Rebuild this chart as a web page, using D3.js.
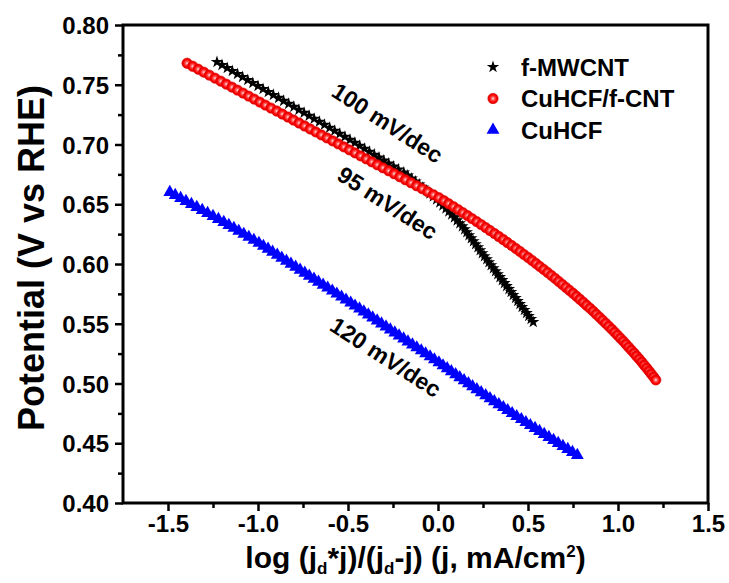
<!DOCTYPE html>
<html>
<head>
<meta charset="utf-8">
<script src="https://cdn.jsdelivr.net/npm/d3@7"></script>
<style>
  body { margin: 0; background: #fff; }
  text { font-family: "Liberation Sans", Arial, sans-serif; font-weight: bold; fill: #000; }
</style>
</head>
<body>
<svg id="chart" width="729" height="583"></svg>
<script>
// values: [log(jd*j/(jd-j)), potential V vs RHE]
const mwcnt = [
  [-1.228,0.769],[-1.200,0.7665],[-1.171,0.764],[-1.143,0.7615],[-1.114,0.759],[-1.086,0.7565],[-1.057,0.754],[-1.029,0.7515],
  [-1.000,0.749],[-0.972,0.7465],[-0.943,0.744],[-0.915,0.7415],[-0.886,0.739],[-0.858,0.7365],[-0.830,0.734],[-0.801,0.7315],
  [-0.773,0.729],[-0.744,0.7265],[-0.716,0.724],[-0.688,0.7215],[-0.659,0.719],[-0.631,0.7165],[-0.602,0.714],[-0.574,0.7115],
  [-0.546,0.709],[-0.517,0.7065],[-0.489,0.704],[-0.462,0.7015],[-0.435,0.699],[-0.408,0.6965],[-0.381,0.694],[-0.354,0.6915],
  [-0.328,0.689],[-0.301,0.6865],[-0.274,0.684],[-0.247,0.6815],[-0.220,0.679],[-0.190,0.6765],[-0.168,0.674],[-0.146,0.6715],
  [-0.125,0.669],[-0.104,0.6665],[-0.084,0.664],[-0.064,0.6615],[-0.045,0.659],[-0.026,0.6565],[-0.008,0.654],[0.010,0.6515],
  [0.027,0.649],[0.044,0.6465],[0.060,0.644],[0.076,0.6415],[0.091,0.639],[0.106,0.6365],[0.121,0.634],[0.135,0.6315],
  [0.148,0.629],[0.160,0.6265],[0.172,0.624],[0.185,0.6215],[0.197,0.619],[0.209,0.6165],[0.222,0.614],[0.234,0.6115],
  [0.246,0.609],[0.258,0.6065],[0.271,0.604],[0.283,0.6015],[0.295,0.599],[0.308,0.5965],[0.320,0.594],[0.332,0.5915],
  [0.344,0.589],[0.357,0.5865],[0.369,0.584],[0.381,0.5815],[0.394,0.579],[0.406,0.5765],[0.418,0.574],[0.431,0.5715],
  [0.443,0.569],[0.455,0.5665],[0.467,0.564],[0.480,0.5615],[0.492,0.559],[0.504,0.5565],[0.517,0.554],[0.529,0.5515]
];
const cuhcfCnt = [
  [-1.394,0.768],[-1.363,0.7655],[-1.332,0.763],[-1.301,0.7605],[-1.270,0.758],[-1.239,0.7555],[-1.207,0.753],[-1.176,0.7505],
  [-1.145,0.748],[-1.114,0.7455],[-1.083,0.743],[-1.052,0.7405],[-1.021,0.738],[-0.990,0.7355],[-0.959,0.733],[-0.928,0.7305],
  [-0.896,0.728],[-0.865,0.7255],[-0.834,0.723],[-0.803,0.7205],[-0.772,0.718],[-0.741,0.7155],[-0.710,0.713],[-0.679,0.7105],
  [-0.648,0.708],[-0.617,0.7055],[-0.585,0.703],[-0.554,0.7005],[-0.523,0.698],[-0.492,0.6955],[-0.461,0.693],[-0.430,0.6905],
  [-0.399,0.688],[-0.368,0.6855],[-0.337,0.683],[-0.306,0.6805],[-0.274,0.678],[-0.243,0.6755],[-0.212,0.673],[-0.181,0.6705],
  [-0.150,0.668],[-0.119,0.6655],[-0.088,0.663],[-0.057,0.6605],[-0.026,0.658],[0.005,0.6555],[0.033,0.653],[0.059,0.6505],
  [0.086,0.648],[0.112,0.6455],[0.138,0.643],[0.164,0.6405],[0.189,0.638],[0.215,0.6355],[0.240,0.633],[0.265,0.6305],
  [0.289,0.628],[0.314,0.6255],[0.338,0.623],[0.362,0.6205],[0.385,0.618],[0.409,0.6155],[0.432,0.613],[0.455,0.6105],
  [0.477,0.608],[0.500,0.6055],[0.522,0.603],[0.544,0.6005],[0.565,0.598],[0.587,0.5955],[0.608,0.593],[0.629,0.5905],
  [0.650,0.588],[0.670,0.5855],[0.690,0.583],[0.710,0.5805],[0.730,0.578],[0.750,0.5755],[0.769,0.573],[0.788,0.5705],
  [0.807,0.568],[0.825,0.5655],[0.844,0.563],[0.862,0.5605],[0.879,0.558],[0.897,0.5555],[0.914,0.553],[0.931,0.5505],
  [0.948,0.548],[0.965,0.5455],[0.981,0.543],[0.997,0.5405],[1.013,0.538],[1.029,0.5355],[1.044,0.533],[1.059,0.5305],
  [1.074,0.528],[1.089,0.5255],[1.103,0.523],[1.118,0.5205],[1.132,0.518],[1.145,0.5155],[1.159,0.513],[1.172,0.5105],
  [1.185,0.508],[1.198,0.5055],[1.210,0.503]
];
const cuhcf = [
  [-1.490,0.660],[-1.460,0.6575],[-1.430,0.655],[-1.400,0.6525],[-1.370,0.650],[-1.340,0.6475],[-1.310,0.645],[-1.280,0.6425],
  [-1.250,0.640],[-1.220,0.6375],[-1.190,0.635],[-1.162,0.6325],[-1.134,0.630],[-1.107,0.6275],[-1.079,0.625],[-1.051,0.6225],
  [-1.023,0.620],[-0.995,0.6175],[-0.970,0.615],[-0.944,0.6125],[-0.919,0.610],[-0.893,0.6075],[-0.868,0.605],[-0.842,0.6025],
  [-0.817,0.600],[-0.791,0.5975],[-0.766,0.595],[-0.740,0.5925],[-0.715,0.590],[-0.689,0.5875],[-0.664,0.585],[-0.638,0.5825],
  [-0.613,0.580],[-0.587,0.5775],[-0.562,0.575],[-0.536,0.5725],[-0.511,0.570],[-0.485,0.5675],[-0.461,0.565],[-0.436,0.5625],
  [-0.412,0.560],[-0.387,0.5575],[-0.363,0.555],[-0.338,0.5525],[-0.314,0.550],[-0.289,0.5475],[-0.265,0.545],[-0.240,0.5425],
  [-0.216,0.540],[-0.191,0.5375],[-0.167,0.535],[-0.142,0.5325],[-0.118,0.530],[-0.093,0.5275],[-0.069,0.525],[-0.044,0.5225],
  [-0.020,0.520],[0.005,0.5175],[0.028,0.515],[0.051,0.5125],[0.074,0.510],[0.098,0.5075],[0.121,0.505],[0.145,0.5025],
  [0.169,0.500],[0.192,0.4975],[0.216,0.495],[0.240,0.4925],[0.265,0.490],[0.289,0.4875],[0.313,0.485],[0.338,0.4825],
  [0.363,0.480],[0.387,0.4775],[0.412,0.475],[0.437,0.4725],[0.463,0.470],[0.488,0.4675],[0.513,0.465],[0.539,0.4625],
  [0.564,0.460],[0.590,0.4575],[0.616,0.455],[0.642,0.4525],[0.668,0.450],[0.694,0.4475],[0.721,0.445],[0.747,0.4425],
  [0.774,0.440]
];

const xTicks = [-1.5, -1.0, -0.5, 0.0, 0.5, 1.0, 1.5];
const xMinor = [-1.25, -0.75, -0.25, 0.25, 0.75, 1.25];
const yTicks = [0.40, 0.45, 0.50, 0.55, 0.60, 0.65, 0.70, 0.75, 0.80];
const yMinor = [0.425, 0.475, 0.525, 0.575, 0.625, 0.675, 0.725, 0.775];
const seriesNames = ['f-MWCNT', 'CuHCF/f-CNT', 'CuHCF'];
const slopeNotes = ['100 mV/dec', '95 mV/dec', '120 mV/dec'];

const svg = d3.select('#chart');
const m = { left: 123, right: 708, top: 25, bottom: 503 };

const x = d3.scaleLinear().domain([-1.75, 1.5]).range([m.left, m.right]);
const y = d3.scaleLinear().domain([0.40, 0.80]).range([m.bottom, m.top]);

// red ball gradient
const defs = svg.append('defs');
const grad = defs.append('radialGradient').attr('id', 'ball')
  .attr('cx', '50%').attr('cy', '50%').attr('r', '50%');
grad.append('stop').attr('offset', '0%').attr('stop-color', '#ffecec');
grad.append('stop').attr('offset', '30%').attr('stop-color', '#ff6060');
grad.append('stop').attr('offset', '70%').attr('stop-color', '#ff0000');
grad.append('stop').attr('offset', '100%').attr('stop-color', '#d80000');

const starPath = d3.symbol().type(d3.symbolStar).size(48)();
const ballPath = d3.symbol().type(d3.symbolCircle).size(84)();
const triPath = d3.symbol().type(d3.symbolTriangle).size(72)();

// axes
const xAxis = svg.append('g').attr('transform', `translate(0,${m.bottom})`)
  .call(d3.axisBottom(x).tickValues(xTicks).tickSize(8).tickPadding(4).tickFormat(d => d.toFixed(1)));
svg.append('g').attr('transform', `translate(0,${m.bottom})`)
  .call(d3.axisBottom(x).tickValues(xMinor).tickSize(5).tickFormat(''));
const yAxis = svg.append('g').attr('transform', `translate(${m.left},0)`)
  .call(d3.axisLeft(y).tickValues(yTicks).tickSize(8).tickPadding(6).tickFormat(d => d.toFixed(2)));
svg.append('g').attr('transform', `translate(${m.left},0)`)
  .call(d3.axisLeft(y).tickValues(yMinor).tickSize(5).tickFormat(''));

svg.selectAll('.domain').remove();
svg.selectAll('.tick line').attr('stroke', '#000').attr('stroke-width', 2.5);
xAxis.selectAll('text').style('font-size', '24px').attr('fill', '#000');
yAxis.selectAll('text').style('font-size', '24px').attr('fill', '#000').attr('dy', '0.36em');

// series
const plot = svg.append('g');
plot.append('g').selectAll('path').data(mwcnt).join('path')
  .attr('transform', d => `translate(${x(d[0])},${y(d[1])})`)
  .attr('d', starPath).attr('fill', '#000');
plot.append('g').selectAll('path').data(cuhcfCnt).join('path')
  .attr('transform', d => `translate(${x(d[0])},${y(d[1])})`)
  .attr('d', ballPath).attr('fill', 'url(#ball)').attr('stroke', '#e00000').attr('stroke-width', 0.6);
plot.append('g').selectAll('path').data(cuhcf).join('path')
  .attr('transform', d => `translate(${x(d[0])},${y(d[1])})`)
  .attr('d', triPath).attr('fill', '#0000ff');

// frame
svg.append('rect')
  .attr('x', m.left).attr('y', m.top).attr('width', m.right - m.left).attr('height', m.bottom - m.top)
  .attr('fill', 'none').attr('stroke', '#000').attr('stroke-width', 3);

// slope annotations
const notePos = [[-0.28, 0.718], [-0.28, 0.651], [-0.29, 0.522]];
svg.append('g').selectAll('text').data(slopeNotes).join('text')
  .attr('transform', (d, i) => `translate(${x(notePos[i][0])},${y(notePos[i][1])}) rotate(33)`)
  .attr('text-anchor', 'middle').attr('dy', '0.35em')
  .style('font-size', '23px')
  .text(d => d);

// legend
const legendMarks = [
  { d: starPath, fill: '#000', stroke: 'none' },
  { d: ballPath, fill: 'url(#ball)', stroke: '#e00000' },
  { d: triPath, fill: '#0000ff', stroke: 'none' }
];
const legend = svg.append('g').attr('transform', 'translate(493,67)');
const row = legend.selectAll('g').data(seriesNames).join('g')
  .attr('transform', (d, i) => `translate(0,${i * 31.5})`);
row.append('path')
  .attr('d', (d, i) => legendMarks[i].d)
  .attr('fill', (d, i) => legendMarks[i].fill)
  .attr('stroke', (d, i) => legendMarks[i].stroke).attr('stroke-width', 0.6);
row.append('text').attr('x', 28).attr('dy', '0.36em')
  .style('font-size', '24px').text(d => d);

// axis titles
svg.append('text')
  .attr('transform', `translate(31,258) rotate(-90)`)
  .attr('text-anchor', 'middle').attr('dy', '0.35em')
  .style('font-size', '36px')
  .text('Potential (V vs RHE)');

const xt = svg.append('text')
  .attr('x', (m.left + m.right) / 2).attr('y', 568)
  .attr('text-anchor', 'middle')
  .style('font-size', '30px');
xt.append('tspan').text('log (j');
xt.append('tspan').attr('baseline-shift', '-6').style('font-size', '17px').text('d');
xt.append('tspan').text('*j)/(j');
xt.append('tspan').attr('baseline-shift', '-6').style('font-size', '17px').text('d');
xt.append('tspan').text('-j) (j, mA/cm');
xt.append('tspan').attr('baseline-shift', '11').style('font-size', '17px').text('2');
xt.append('tspan').text(')');
</script>
</body>
</html>
